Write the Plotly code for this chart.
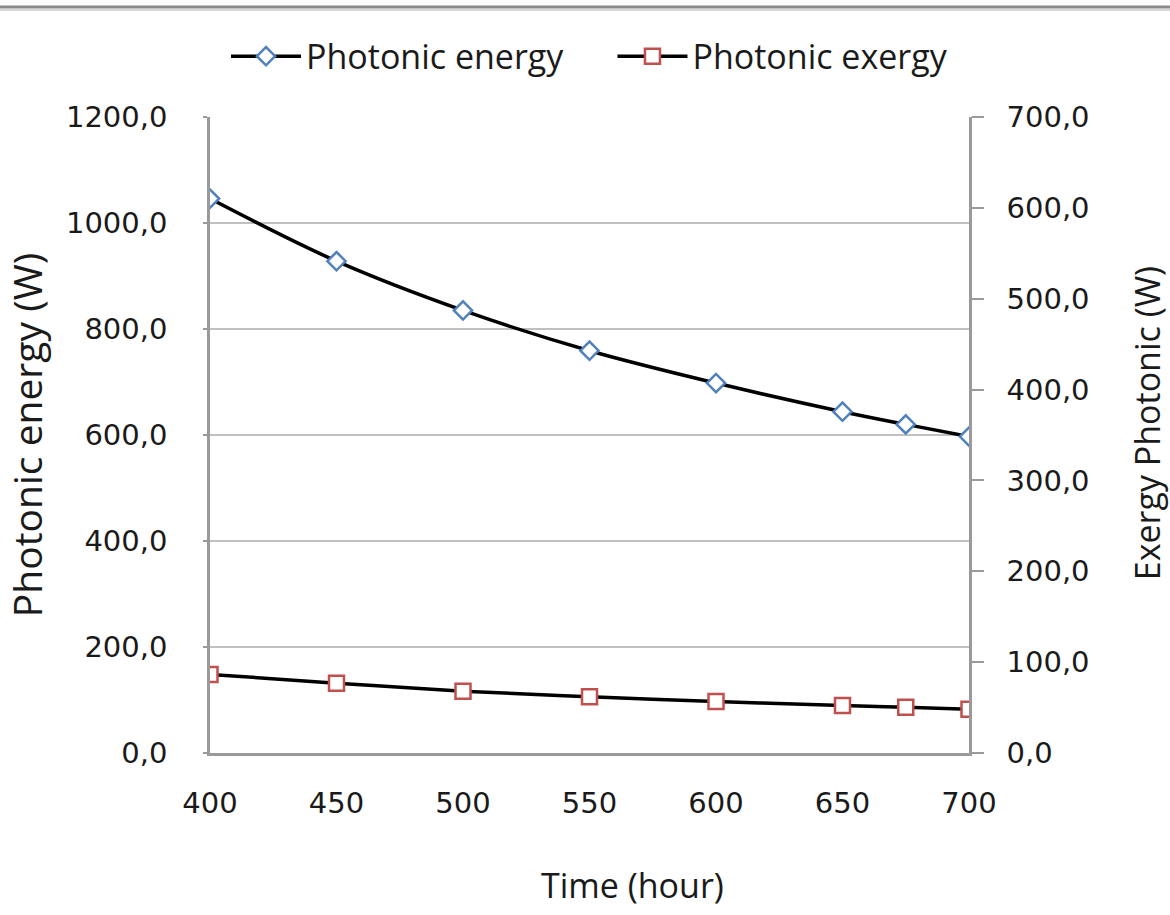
import plotly.graph_objects as go

time_h = [400, 450, 500, 550, 600, 650, 675, 700]
photonic_energy = [1046, 928, 835, 759, 698, 644, 620, 597]
photonic_exergy = [86.5, 76.9, 68.1, 61.9, 56.7, 52.3, 50.4, 48.2]

x_ticks = [400, 450, 500, 550, 600, 650, 700]
left_ticks = [0, 200, 400, 600, 800, 1000, 1200]
right_ticks = [0, 100, 200, 300, 400, 500, 600, 700]
series_names = ["Photonic energy", "Photonic exergy"]

TICK_FONT = dict(family="DejaVu Sans", size=29, color="#1a1a1a")
TITLE_FONT = dict(family="Open Sans", size=34, color="#1a1a1a")
LEFT_TITLE_FONT = dict(family="Open Sans", size=39, color="#1a1a1a")
GRID = "#c0c0c0"
AXIS = "#9a9a9a"
PAD = "\u00a0" * 5

fig = go.Figure()
fig.add_trace(go.Scatter(
    x=time_h, y=photonic_energy, name=series_names[0] + PAD,
    mode="lines+markers", line=dict(color="black", width=3.5, shape="spline"),
    marker=dict(symbol="diamond", size=14, color="white",
                line=dict(color="#4f81bd", width=2.5)),
))
fig.add_trace(go.Scatter(
    x=time_h, y=photonic_exergy, name=series_names[1], yaxis="y2",
    mode="lines+markers", line=dict(color="black", width=3.5, shape="spline"),
    marker=dict(symbol="square", size=15, color="white",
                line=dict(color="#c0504d", width=2.5)),
))

fig.update_layout(
    width=1170, height=915,
    margin=dict(l=210, r=201, t=117, b=162),
    paper_bgcolor="white", plot_bgcolor="white",
    showlegend=True,
    legend=dict(orientation="h", x=0.5, xanchor="center", y=1.095, yanchor="middle",
                font=TITLE_FONT, itemwidth=70, traceorder="normal",
                bgcolor="rgba(0,0,0,0)"),
    xaxis=dict(range=[400, 700], tickvals=x_ticks, ticktext=[str(v) for v in x_ticks],
               showgrid=False, zeroline=False, showline=True, linecolor=AXIS, linewidth=2.5,
               ticks="", tickfont=TICK_FONT, ticklabelstandoff=22),
    yaxis=dict(range=[0, 1200], tickvals=left_ticks,
               ticktext=[f"{v:.1f}".replace(".", ",") for v in left_ticks],
               showgrid=True, gridcolor=GRID, gridwidth=2, zeroline=False,
               showline=True, linecolor=AXIS, linewidth=2.5,
               ticks="outside", ticklen=4, tickcolor=AXIS, tickwidth=2,
               tickfont=TICK_FONT, ticklabelstandoff=30,
               title=dict(text="Photonic energy (W)", font=LEFT_TITLE_FONT, standoff=12)),
    yaxis2=dict(range=[0, 700], tickvals=right_ticks,
                ticktext=[f"{v:.1f}".replace(".", ",") for v in right_ticks],
                overlaying="y", side="right", showgrid=False, zeroline=False,
                showline=True, linecolor=AXIS, linewidth=2.5,
                ticks="outside", ticklen=12, tickcolor=AXIS, tickwidth=2,
                tickfont=TICK_FONT, ticklabelstandoff=17),
)

fig.add_annotation(text="Time (hour)", xref="paper", yref="paper",
                   x=(632 - 210) / 759, y=(752.5 - 884) / 635.5,
                   xanchor="center", yanchor="middle", showarrow=False, font=TITLE_FONT)
fig.add_annotation(text="Exergy Photonic (W)", xref="paper", yref="paper",
                   x=(1147 - 210) / 759, y=(752.5 - 423) / 635.5, textangle=-90,
                   xanchor="center", yanchor="middle", showarrow=False, font=TITLE_FONT)

fig.add_shape(type="line", xref="paper", yref="paper", x0=-0.3, x1=1.3,
              y0=1.0 + 110 / 636, y1=1.0 + 110 / 636,
              line=dict(color="#8a8a8a", width=3))
fig.add_shape(type="line", xref="paper", yref="paper", x0=-0.3, x1=1.3,
              y0=1.0 + 107 / 636, y1=1.0 + 107 / 636,
              line=dict(color="#d8d8d8", width=2))

fig.write_html("out.html")
